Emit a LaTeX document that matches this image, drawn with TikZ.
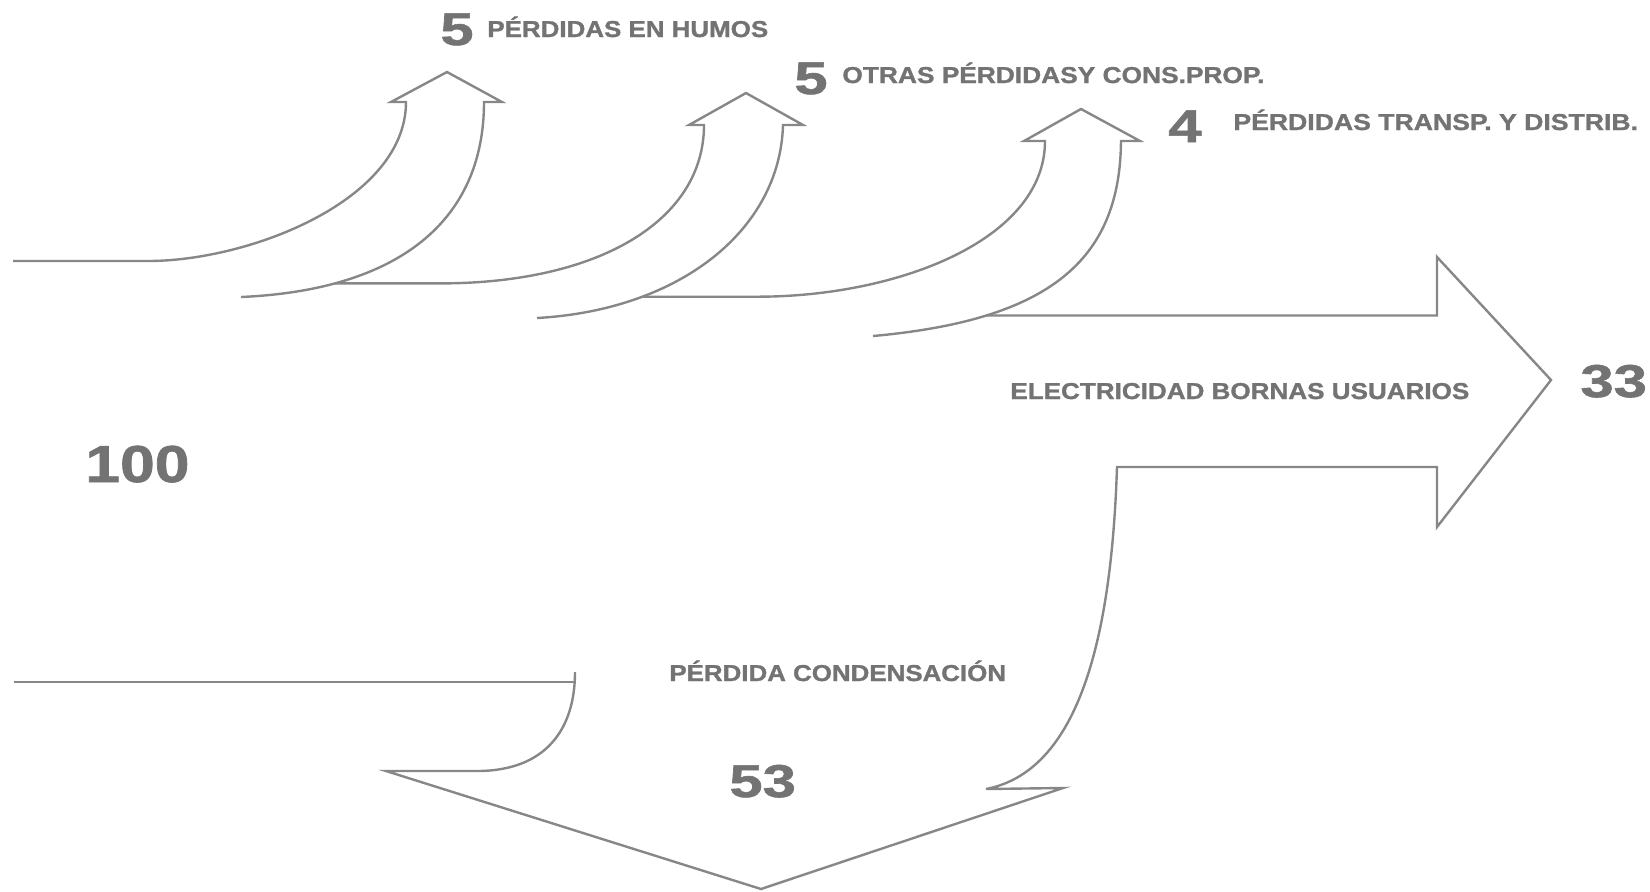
\documentclass[tikz,border=0pt]{standalone}
\usepackage{fontspec}
\setmainfont{Liberation Sans}[BoldFeatures={FakeBold=1.2}]
\usepackage{graphicx}
\definecolor{tgray}{RGB}{115,115,115}
\definecolor{lgray}{RGB}{135,135,135}
\newcommand\hsc[2]{\scalebox{#1}[1]{#2}}
\tikzset{
  outline/.style={draw=lgray, line width=1.2pt},
  lbl/.style={text=tgray, font=\bfseries\fontsize{11.5}{13}\selectfont, inner sep=0pt, anchor=base west},
  num/.style={text=tgray, font=\bfseries\fontsize{23}{26}\selectfont, inner sep=0pt, anchor=base west},
  bignum/.style={text=tgray, font=\bfseries\fontsize{26}{30}\selectfont, inner sep=0pt, anchor=base west}
}
\begin{document}
\begin{tikzpicture}[x=0.5pt,y=-0.5pt]
\useasboundingbox (0,0) rectangle (1650,891);

% arrow 1 (humos)
\draw[outline] (13,261) -- (148,261) .. controls (250,261) and (406,200) .. (406,102)
  -- (391,102) -- (447,72) -- (502,102) -- (484,102)
  .. controls (484,220) and (400,290) .. coordinate[pos=0.78] (c1) (241,297);

% arrow 2 (otras perdidas)
\draw[outline] (c1) -- ++(105,0) .. controls +(160,0) and (704,220) .. (704,125)
  -- (689,125) -- (746,93) -- (803,125) -- (783,125)
  .. controls (780,230) and (680,310) .. coordinate[pos=0.73] (c2) (537,318);

% arrow 3 (transp. y distrib.)
\draw[outline] (c2) -- ++(115,0) .. controls +(140,0) and (1045,240) .. (1045,141)
  -- (1024,141) -- (1081,109) -- (1140,141) -- (1121,141)
  .. controls (1120,260) and (1050,320) .. coordinate[pos=0.75] (c3) (873,336);

% big arrow: electricity and condensation
\draw[outline] (c3) -- (c3 -| 1437,0) -- (1437,257) -- (1551,380) -- (1437,527)
  -- (1437,467) -- (1117,467)
  .. controls (1112,620) and (1085,770) .. (986,789)
  -- (1063,788) -- (761,889) -- (386,771) -- (477,771)
  .. controls (545,771) and (575,730) .. (575,672);
\coordinate (b0) at (14,682);
\coordinate (b1) at (575,682);
\draw[outline] (b0) -- (b1);

% texts
\node[num] (n5a) at (440,45) {\hsc{1.3}{5}};
\node[lbl] (t1) at (487,37) {\hsc{1.127}{PÉRDIDAS EN HUMOS}};
\node[num] (n5b) at (794,94) {\hsc{1.3}{5}};
\node[lbl] (t2) at (842,83) {\hsc{1.144}{OTRAS PÉRDIDASY CONS.PROP.}};
\node[num] (n4) at (1168,142) {\hsc{1.3}{4}};
\node[lbl] (t3) at (1233,130) {\hsc{1.157}{PÉRDIDAS TRANSP. Y DISTRIB.}};
\node[lbl] (t4) at (1010,399) {\hsc{1.133}{ELECTRICIDAD BORNAS USUARIOS}};
\node[num] (n33) at (1580,397) {\hsc{1.3}{33}};
\node[bignum] (n100) at (85,482) {\hsc{1.2}{100}};
\node[lbl] (t5) at (669,681) {\hsc{1.126}{PÉRDIDA CONDENSACIÓN}};
\node[num] (n53) at (729,797) {\hsc{1.3}{53}};
\end{tikzpicture}
\end{document}
